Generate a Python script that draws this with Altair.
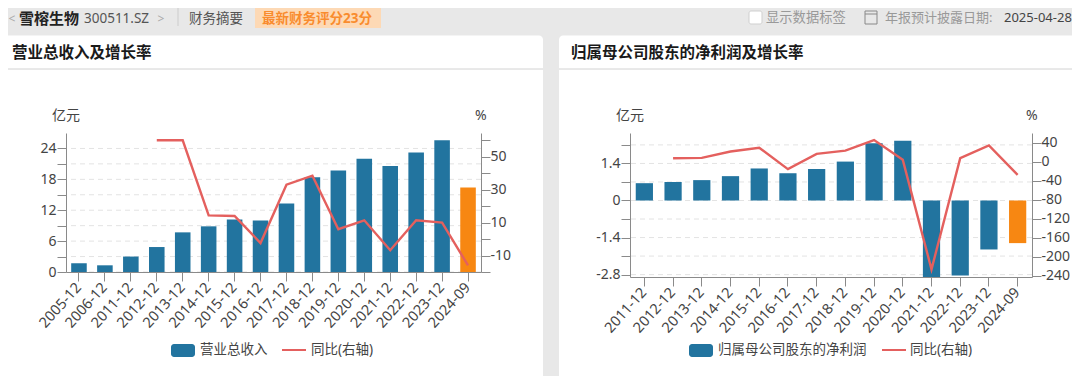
import altair as alt
import pandas as pd

FONT = "Noto Sans, Noto Sans CJK SC"
BLUE, ORANGE, RED = "#22749f", "#f78712", "#e4605e"
AXIS_C, LABEL_C = "#8a8a8a", "#444444"

# ---------- data ----------
rev_cats = ["2005-12","2006-12","2011-12","2012-12","2013-12","2014-12","2015-12","2016-12",
            "2017-12","2018-12","2019-12","2020-12","2021-12","2022-12","2023-12","2024-09"]
rev_vals = [1.7,1.3,3.0,4.85,7.7,8.87,10.2,10.0,13.3,18.4,19.7,22.0,20.6,23.2,25.6,16.4]
rev_yoy  = [None,None,None,60,60,14.4,14,-2.4,33,38.5,6,11.4,-6.8,11.4,10,-16]

np_cats = ["2011-12","2012-12","2013-12","2014-12","2015-12","2016-12","2017-12",
           "2018-12","2019-12","2020-12","2021-12","2022-12","2023-12","2024-09"]
np_vals = [0.654,0.70,0.77,0.92,1.21,1.03,1.19,1.47,2.16,2.26,-2.89,-2.83,-1.85,-1.61]
np_yoy  = [None,7,7.7,21,29,-16,16,23,45,3.5,-227,7,34,-28]

rev_ticks_l = [0,3,6,9,12,15,18,21,24]
rev_ticks_r = [-20,-10,0,10,20,30,40,50,60]
np_ticks_l = [-2.8,-2.1,-1.4,-0.7,0,0.7,1.4,2.1]
np_ticks_r = [-240,-200,-160,-120,-80,-40,0,40]


def frame(cats, vals, yoy):
    last = cats[-1]
    return pd.DataFrame({"cat": cats, "val": vals, "yoy": yoy,
                         "kind": ["q" if c == last else "y" for c in cats]})


one = pd.DataFrame({"_": [0]})


def rect(ox, oy, x0, y0, x1, y1, fill, **kw):
    return alt.Chart(one).mark_rect(fill=fill, **kw).encode(
        x=alt.value(x0 - ox), x2=alt.value(x1 - ox),
        y=alt.value(y0 - oy), y2=alt.value(y1 - oy))


def label(ox, oy, s, x, y, size=13.5, color=LABEL_C, weight="normal", align="left"):
    return alt.Chart(one).mark_text(font=FONT, fontSize=size, color=color, fontWeight=weight,
                                    align=align, baseline="middle").encode(
        x=alt.value(x - ox), y=alt.value(y - oy), text=alt.value(s))


def hline(ox, oy, x0, x1, y, color, width=1):
    return alt.Chart(one).mark_rule(color=color, strokeWidth=width).encode(
        x=alt.value(x0 - ox), x2=alt.value(x1 - ox), y=alt.value(y - oy))


def vline(ox, oy, x, y0, y1, color, width=1):
    return alt.Chart(one).mark_rule(color=color, strokeWidth=width).encode(
        x=alt.value(x - ox), y=alt.value(y0 - oy), y2=alt.value(y1 - oy))


def panel(ox, oy, w, h, df, dom_l, dom_r, ticks_l, ticks_r, expr_l, expr_r, decor):
    sx = alt.Scale(domain=list(df["cat"]), paddingInner=0.4, paddingOuter=0.2)
    sl = alt.Scale(domain=dom_l, nice=False, zero=False)
    sr = alt.Scale(domain=dom_r, nice=False, zero=False)
    x_axis = alt.Axis(title=None, labelAngle=-48, labelAlign="right", labelBaseline="middle",
                      labelFont=FONT, labelFontSize=14.5, labelColor=LABEL_C, labelPadding=4,
                      labelOverlap=False, tickSize=9, tickColor=AXIS_C, domainColor=AXIS_C,
                      grid=False, zindex=1)
    grid = alt.Chart(pd.DataFrame({"t": ticks_l})).mark_rule(
        color="#e3e3e3", strokeDash=[5, 4], strokeWidth=1
    ).encode(y=alt.Y("t:Q", scale=sl, axis=None))
    bars = alt.Chart(df).mark_bar().encode(
        x=alt.X("cat:N", sort=None, scale=sx, axis=x_axis),
        y=alt.Y("val:Q", scale=sl, axis=alt.Axis(
            title=None, orient="left", values=ticks_l, labelExpr=expr_l, labelFont=FONT,
            labelFontSize=14, labelColor=LABEL_C, labelPadding=1, tickSize=9,
            tickColor=AXIS_C, domainColor=AXIS_C, grid=False, zindex=1)),
        color=alt.Color("kind:N", legend=None,
                        scale=alt.Scale(domain=["y", "q"], range=[BLUE, ORANGE])),
    )
    line = alt.Chart(df[df["yoy"].notna()]).mark_line(color=RED, strokeWidth=2.4).encode(
        x=alt.X("cat:N", sort=None, scale=sx),
        y=alt.Y("yoy:Q", scale=sr, axis=alt.Axis(
            title=None, orient="right", values=ticks_r, labelExpr=expr_r, labelFont=FONT,
            labelFontSize=14, labelColor=LABEL_C, labelPadding=0, tickSize=9,
            tickColor=AXIS_C, domainColor=AXIS_C, grid=False, zindex=1)),
    )
    return alt.layer(*decor, grid, bars, line).resolve_scale(y="independent", color="independent").properties(
        width=w, height=h)


# ---------- left panel ----------
ox, oy = 66, 133
GRAY = "#e8e8e8"
left_decor = [
    rect(ox, oy, 1, 1, 1080, 376, GRAY),
    rect(ox, oy, 1, 35.5, 543, 376, "white", cornerRadiusTopLeft=4, cornerRadiusTopRight=4),
    hline(ox, oy, 1, 543, 69, "#d2d2d2"),
    label(ox, oy, "<", 12, 19, 12, "#aaaaaa", align="center"),
    label(ox, oy, "雪榕生物", 19, 19, 15, "#222222", "bold"),
    label(ox, oy, "300511.SZ", 84, 19, 13.5, "#555555"),
    label(ox, oy, ">", 161, 19, 12, "#aaaaaa", align="center"),
    vline(ox, oy, 178, 8, 26, "#cccccc"),
    label(ox, oy, "财务摘要", 189, 19, 13.5, "#555555"),
    rect(ox, oy, 255, 3, 381, 28, "#fdd9b5"),
    label(ox, oy, "最新财务评分23分", 262, 19, 13.5, "#f98c2e", "bold"),
    rect(ox, oy, 749, 11, 762, 24, "white", stroke="#cfcfcf", cornerRadius=2),
    label(ox, oy, "显示数据标签", 766, 18, 13.3, "#999999"),
    rect(ox, oy, 865, 11, 877, 24, GRAY, stroke="#888888"),
    hline(ox, oy, 865, 877, 14, "#888888"),
    label(ox, oy, "年报预计披露日期:", 885, 18, 13, "#999999"),
    label(ox, oy, "2025-04-28", 1004, 18, 13, "#444444"),
    label(ox, oy, "营业总收入及增长率", 12, 53, 15.5, "#1a1a1a", "bold"),
    label(ox, oy, "亿元", 52, 116, 14),
    label(ox, oy, "%", 475, 116, 14),
    rect(ox, oy, 171, 344, 195, 357, BLUE, cornerRadius=3),
    label(ox, oy, "营业总收入", 200, 350, 13.5),
    hline(ox, oy, 282, 306, 350, RED, 2),
    label(ox, oy, "同比(右轴)", 311, 350, 13.5),
]
left = panel(ox, oy, 415, 139, frame(rev_cats, rev_vals, rev_yoy), [0, 27], [-20, 64.4],
             rev_ticks_l, rev_ticks_r,
             "datum.value % 6 === 0 ? toString(datum.value) : ''",
             "(datum.value + 10) % 20 === 0 ? toString(datum.value) : ''", left_decor)

# ---------- right panel ----------
ox, oy = 630, 133
right_decor = [
    rect(ox, oy, 559, 35.5, 1080, 376, "white", cornerRadiusTopLeft=4),
    hline(ox, oy, 559, 1080, 69, "#d2d2d2"),
    label(ox, oy, "归属母公司股东的净利润及增长率", 571, 53, 15.5, "#1a1a1a", "bold"),
    label(ox, oy, "亿元", 616, 116, 14),
    label(ox, oy, "%", 1026, 116, 14),
    rect(ox, oy, 689, 344, 713, 357, BLUE, cornerRadius=3),
    label(ox, oy, "归属母公司股东的净利润", 718, 350, 13.5),
    hline(ox, oy, 882, 906, 350, RED, 2),
    label(ox, oy, "同比(右轴)", 910, 350, 13.5),
]
right = panel(ox, oy, 402, 144, frame(np_cats, np_vals, np_yoy), [-2.89, 2.55], [-243, 60],
              np_ticks_l, np_ticks_r,
              "abs(abs(datum.value) % 1.4) < 0.01 || abs(abs(datum.value) % 1.4 - 1.4) < 0.01 ? toString(datum.value) : ''",
              "toString(datum.value)", right_decor)

chart = alt.hconcat(left, right, spacing=149, bounds="flush").properties(
    padding={"left": 58, "top": 125, "right": 1006, "bottom": 243},
    autosize=alt.AutoSizeParams(type="none"),
    background=GRAY,
).configure_view(stroke=None).configure_concat(spacing=149)

chart.save("out.html", embed_options={"renderer": "svg", "actions": False})
